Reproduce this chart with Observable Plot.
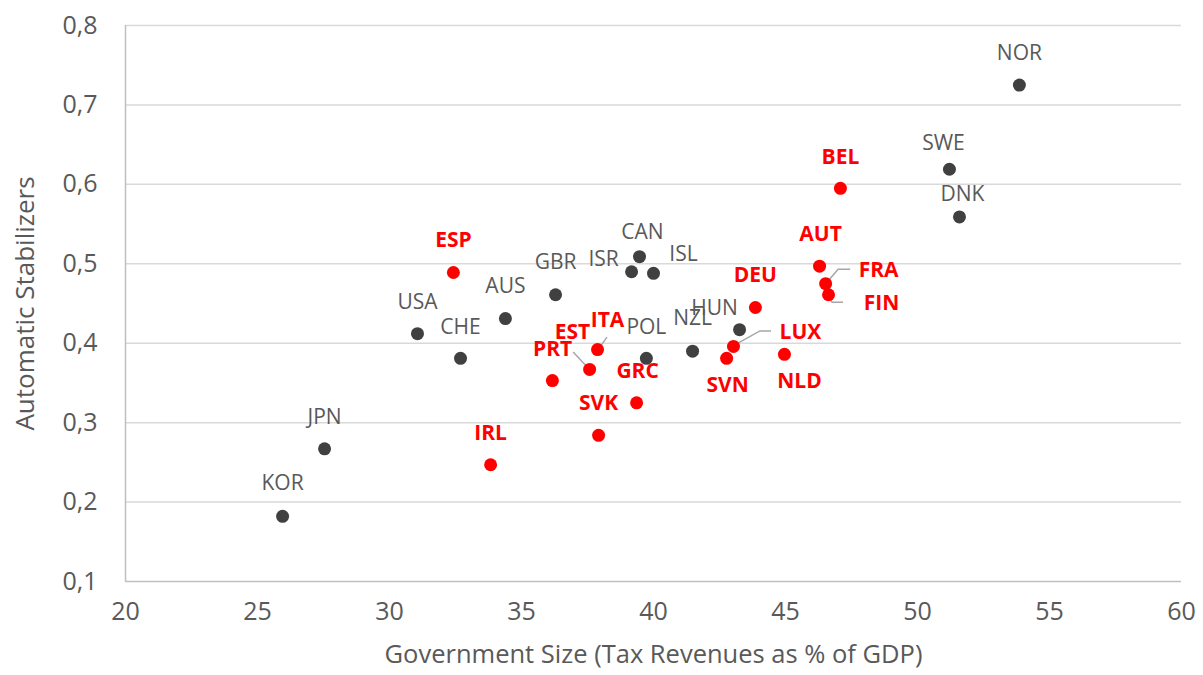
<!DOCTYPE html>
<html>
<head>
<meta charset="utf-8">
<script src="https://cdn.jsdelivr.net/npm/d3@7"></script>
<script src="https://cdn.jsdelivr.net/npm/@observablehq/plot@0.6"></script>
<style>
  html, body { margin: 0; padding: 0; background: #ffffff; }
  #chart svg { display: block; }
</style>
</head>
<body>
<div id="chart"></div>
<script>
// ---- Data ----
const countries = ["NOR","SWE","DNK","BEL","AUT","FRA","FIN","DEU","HUN","LUX","SVN","NLD","NZL","POL","GRC","SVK","ITA","PRT","EST","CAN","ISR","ISL","GBR","AUS","ESP","USA","CHE","JPN","IRL","KOR"];
const taxRevenue = [53.86,51.21,51.59,47.08,46.29,46.52,46.63,43.86,43.26,43.03,42.77,44.96,41.48,39.73,39.36,37.92,37.88,37.58,36.17,39.47,39.17,40.00,36.29,34.39,32.42,31.06,32.69,27.54,33.83,25.95];
const stabilizers = [0.725,0.619,0.559,0.595,0.497,0.475,0.461,0.445,0.417,0.396,0.381,0.386,0.390,0.381,0.325,0.284,0.392,0.367,0.353,0.509,0.490,0.488,0.461,0.431,0.489,0.412,0.381,0.267,0.247,0.182];
const highlighted = ["BEL","AUT","FRA","FIN","DEU","LUX","SVN","NLD","GRC","SVK","ITA","PRT","EST","ESP","IRL"];
const xTicks = [20,25,30,35,40,45,50,55,60];
const yTicks = [0.1,0.2,0.3,0.4,0.5,0.6,0.7,0.8];
const xTitle = "Government Size (Tax Revenues as % of GDP)";
const yTitle = "Automatic Stabilizers";

// ---- Annotation layout (pixel offsets of labels from their points) ----
const labelOffset = {
  NOR:[0,-32], SWE:[-6,-26], DNK:[3,-23], BEL:[0,-31], AUT:[1,-32], FRA:[53,-13], FIN:[53,9],
  DEU:[0,-32], HUN:[-25,-21], LUX:[67,-14], SVN:[1,27], NLD:[15,27], NZL:[0,-33], POL:[0,-31],
  GRC:[1,-32], SVK:[0,-32], ITA:[10,-29], PRT:[-37,-20], EST:[20,-48], CAN:[3,-24], ISR:[-28,-12],
  ISL:[30,-19], GBR:[0,-32], AUS:[0,-32], ESP:[0,-32], USA:[0,-31], CHE:[0,-31], JPN:[0,-32],
  IRL:[0,-31], KOR:[0,-33]
};
const leaders = {
  FRA: [[1,0],[13,-14],[25,-14]],
  FIN: [[0,1],[4,8],[15,8]],
  LUX: [[0,0],[27,-15],[38,-15]],
  ITA: [[2,-1],[10,-12]],
  PRT: [[-1,-1],[-16,-17]]
};

const RED = "#ff0000", DARK = "#404040", TEXT = "#595959";
const FONT = "'Open Sans', 'Noto Sans', sans-serif";

const rows = countries.map((c, i) => ({c, x: taxRevenue[i], y: stabilizers[i], hi: highlighted.includes(c)}));
const fmt = d => d.toFixed(1).replace(".", ",");

const labelMarks = rows.map(r => Plot.text([r], {
  x: "x", y: "y", text: "c",
  dx: labelOffset[r.c][0], dy: labelOffset[r.c][1],
  fill: r.hi ? RED : TEXT,
  fontWeight: r.hi ? "bold" : "normal",
  fontSize: 21,
  lineAnchor: "middle",
  textAnchor: "middle"
}));

const chart = Plot.plot({
  width: 1203,
  height: 675,
  marginLeft: 125,
  marginRight: 22,
  marginTop: 25,
  marginBottom: 94,
  style: {fontFamily: FONT, background: "#ffffff", overflow: "visible"},
  x: {domain: [20, 60]},
  y: {domain: [0.1, 0.8]},
  marks: [
    Plot.gridY(yTicks.slice(1), {stroke: "#d9d9d9", strokeOpacity: 1, strokeWidth: 1.5}),
    Plot.ruleY([0.1], {stroke: "#bfbfbf", strokeWidth: 1.5}),
    Plot.ruleX([20], {stroke: "#bfbfbf", strokeWidth: 1.5}),
    Plot.axisX({ticks: xTicks, tickSize: 0, tickPadding: 21, fontSize: 25, color: TEXT, label: null}),
    Plot.axisY({ticks: yTicks, tickSize: 0, tickPadding: 28, fontSize: 25, color: TEXT, label: null, tickFormat: fmt}),
    Plot.text([xTitle], {frameAnchor: "bottom", dy: 73, fontSize: 25.5, fill: TEXT, lineAnchor: "middle", textAnchor: "middle"}),
    Plot.text([yTitle], {frameAnchor: "left", dx: -100, rotate: -90, fontSize: 26, fill: TEXT, lineAnchor: "middle", textAnchor: "middle"}),
    Plot.dot(rows, {x: "x", y: "y", r: 6.5, fill: d => d.hi ? RED : DARK, stroke: "none"}),
    ...labelMarks
  ]
});

// leader lines, positioned through the plot's own scales
const sx = chart.scale("x"), sy = chart.scale("y");
const leaderG = d3.select(chart).insert("g", "g[aria-label='dot']")
  .attr("fill", "none").attr("stroke", "#a6a6a6").attr("stroke-width", 1.5);
Object.entries(leaders).forEach(([c, pts]) => {
  const r = rows.find(d => d.c === c);
  const px = sx.apply(r.x), py = sy.apply(r.y);
  leaderG.append("path").attr("d", d3.line()(pts.map(([dx, dy]) => [px + dx, py + dy])));
});

document.getElementById("chart").append(chart);
</script>
</body>
</html>
